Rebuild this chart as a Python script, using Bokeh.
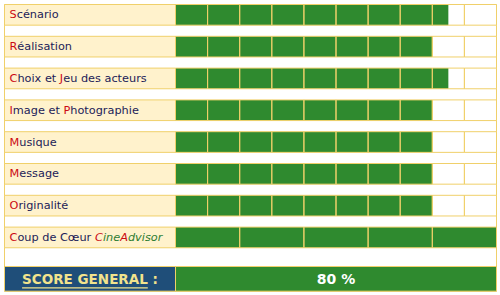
from bokeh.plotting import figure
from bokeh.models import Range1d, ColumnDataSource
from bokeh.core.properties import value
from bokeh.embed import file_html
from bokeh.resources import INLINE

# ---------------- data ----------------
criteria = ["Scénario", "Réalisation", "Choix et Jeu des acteurs", "Image et Photographie",
            "Musique", "Message", "Originalité", "Coup de Cœur "]
brand = ["C", "ine", "A", "dvisor"]           # CineAdvisor, red capitals
scores = [8.5, 8, 8.5, 8, 8, 8, 8, 5]
scale_max = [10, 10, 10, 10, 10, 10, 10, 5]
red_letters = [[0], [0], [0, 9], [0, 9], [0], [0], [0], [0]]
overall_label = "SCORE GENERAL"
overall_pct = 80

# ---------------- style ----------------
GREEN = "#2F8A2F"
CREAM = "#FFF2CC"
BORDER = "#F0D06A"
NAVY = "#1C1C58"
RED = "#CC0A12"
BRAND_GREEN = "#2E7D32"
BLUE = "#1F4E79"
GOLD = "#F2E38C"
FONT = "DejaVu Sans"
FS = 11.3

W, H = 500, 295
X0, XS = 175.0, 32.1      # px of score 0, px per unit
Y0, YS = 4.0, 31.8        # px of row 0 top, px per row
ROW_H = 0.65
SC_TOP, SC_BOT = (266 - Y0) / YS, (290.7 - Y0) / YS
LAB_L = (4 - X0) / XS

p = figure(width=W, height=H, output_backend="svg", toolbar_location=None,
           x_range=Range1d(-X0 / XS, (W - X0) / XS),
           y_range=Range1d((H - Y0) / YS, -Y0 / YS),
           x_axis_type=None, y_axis_type=None, min_border=0,
           outline_line_color=None, background_fill_color="white",
           border_fill_color="white")
p.grid.visible = False

n = len(criteria)
# table frame (spacer rows)
p.quad(left=[LAB_L], right=[10], top=[0], bottom=[SC_BOT], fill_color="white",
       line_color=BORDER, line_width=1)

# label cells
p.quad(left=[LAB_L] * n, right=[0] * n, top=list(range(n)),
       bottom=[i + ROW_H for i in range(n)], fill_color=CREAM, line_color=BORDER, line_width=1)

# empty score cells
cl, cr, ct, cb = [], [], [], []
for i in range(n):
    cw = 10 / scale_max[i]
    for k in range(scale_max[i]):
        cl.append(k * cw); cr.append((k + 1) * cw); ct.append(i); cb.append(i + ROW_H)
p.quad(left=cl, right=cr, top=ct, bottom=cb, fill_color="white", line_color=None)

# green bars
p.quad(left=[0] * n, right=[s * 10 / m for s, m in zip(scores, scale_max)],
       top=list(range(n)), bottom=[i + ROW_H for i in range(n)], fill_color=GREEN, line_color=None)

# cell grid lines
p.quad(left=cl, right=cr, top=ct, bottom=cb, fill_color=None, line_color=BORDER, line_width=1)

# score row
p.quad(left=[LAB_L], right=[0], top=[SC_TOP], bottom=[SC_BOT], fill_color=BLUE,
       line_color=BORDER, line_width=1)
p.quad(left=[0], right=[10], top=[SC_TOP], bottom=[SC_BOT], fill_color=GREEN,
       line_color=BORDER, line_width=1)

# ---------------- texts ----------------
ADV = {' ': 651, 'A': 1401, 'C': 1430, 'I': 604, 'J': 604, 'M': 1767, 'O': 1612, 'P': 1235,
       'R': 1423, 'S': 1300, 'a': 1255, 'c': 1126, 'd': 1300, 'e': 1260, 'g': 1300,
       'h': 1298, 'i': 569, 'm': 1995, 'n': 1298, 'o': 1253, 'p': 1300, 'r': 842, 't': 803,
       'u': 1298, 'x': 1212, 'œ': 2134, 'é': 1260, 'l': 569, 's': 1067, 'v': 1212,
       'q': 1300, 'é': 1260, 'M': 1767, 'f': 720, 'y': 1212}


def adv(s, fs=FS):
    return sum(ADV.get(ch, 1250) for ch in s) / 2048 * fs


seg = dict(x=[], y=[], text=[], xo=[], color=[], style=[])


def add(i, xo, t, color, style="normal"):
    seg["x"].append(LAB_L); seg["y"].append(i + ROW_H / 2); seg["text"].append(t)
    seg["xo"].append(xo); seg["color"].append(color); seg["style"].append(style)


for i, name in enumerate(criteria):
    # split into runs of colour
    runs, cur, cur_red = [], "", None
    for j, ch in enumerate(name):
        is_red = j in red_letters[i]
        if cur and is_red != cur_red:
            runs.append((cur, cur_red)); cur = ""
        cur += ch; cur_red = is_red
    if cur:
        runs.append((cur, cur_red))
    xo = 5.0
    for t, r in runs:
        if t.strip():
            add(i, xo, t, RED if r else NAVY)
        xo += adv(t)
    if i == n - 1:
        for k, t in enumerate(brand):
            add(i, xo, t, RED if k % 2 == 0 else BRAND_GREEN, "italic")
            xo += adv(t)

src = ColumnDataSource(seg)
p.text(x="x", y="y", text="text", x_offset="xo", text_color="color", text_font_style="style",
       source=src, text_baseline="middle", text_align="left",
       text_font=value(FONT), text_font_size=value(f"{FS}px"))

# score general
BADV = {'S': 1475, 'C': 1502, 'O': 1741, 'R': 1577, 'E': 1403, ' ': 713, 'G': 1683,
        'N': 1706, 'A': 1585, 'L': 1300, ':': 823}
SFS = 13.5
full = overall_label + " :"
wfull = sum(BADV[c] for c in full) / 2048 * SFS
wlab = sum(BADV[c] for c in overall_label) / 2048 * SFS
cx_px = (4 + X0) / 2
sc_mid = (SC_TOP + SC_BOT) / 2
p.text(x=[(cx_px - X0) / XS], y=[sc_mid], text=[full], text_color=GOLD,
       text_font=value(FONT), text_font_size=value(f"{SFS}px"), text_font_style="bold",
       text_align="center", text_baseline="middle")
ul0 = (cx_px - wfull / 2 - X0) / XS
ul1 = (cx_px - wfull / 2 + wlab - X0) / XS
uy = (287.3 - Y0) / YS
p.segment(x0=[ul0], y0=[uy], x1=[ul1], y1=[uy], line_color=GOLD, line_width=1.3)

p.text(x=[5], y=[sc_mid], text=[f"{overall_pct} %"], text_color="white",
       text_font=value(FONT), text_font_size=value("14px"), text_font_style="bold",
       text_align="center", text_baseline="middle")

open("out.html", "w").write(file_html(p, INLINE))
